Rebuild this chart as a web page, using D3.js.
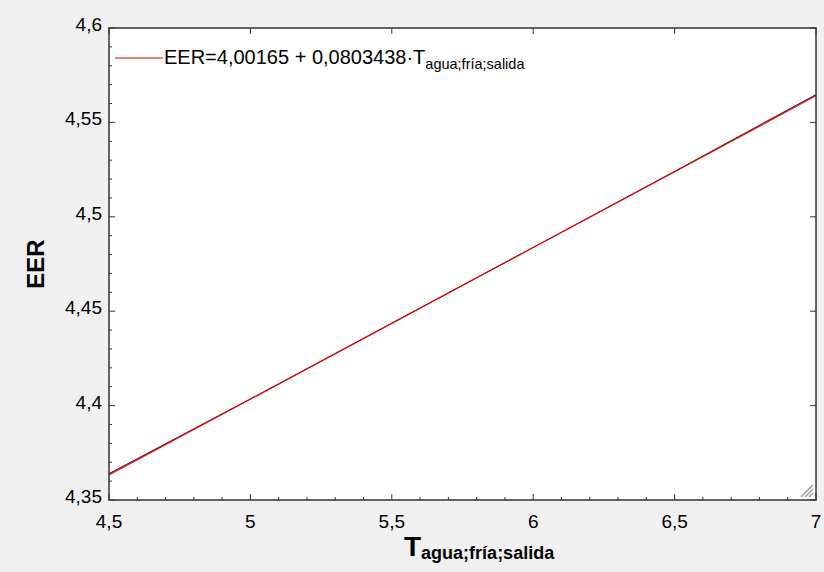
<!DOCTYPE html>
<html>
<head>
<meta charset="utf-8">
<script src="https://cdn.jsdelivr.net/npm/d3@7"></script>
<style>
  body { margin: 0; background: #f0f0f0; }
  text { font-family: Arial, "Liberation Sans", sans-serif; fill: #000; }
</style>
</head>
<body>
<div class="Chart"></div>
<script>
// values
let xTicks = [4.5, 5, 5.5, 6, 6.5, 7];
let yTicks = [4.35, 4.4, 4.45, 4.5, 4.55, 4.6];
let intercept = 4.00165;
let slope = 0.0803438;
// fitted (red) line end points
let fitX = [4.5, 7];
// observed (black) line
let obsX = [4.5, 5, 5.5, 6, 6.5, 7];
let obsY = [4.3639, 4.4035, 4.4436, 4.4838, 4.5240, 4.5647];

let svgWidth = 824;
let svgHeight = 572;

let margin = { top: 28, right: 8, bottom: 72, left: 109 };
let width = svgWidth - margin.left - margin.right;
let height = svgHeight - margin.top - margin.bottom;

let svg = d3.select(".Chart")
  .append("svg")
  .attr("width", svgWidth)
  .attr("height", svgHeight);

svg.append("rect")
  .attr("width", svgWidth).attr("height", svgHeight)
  .attr("fill", "#f0f0f0");

let chart = svg.append("g")
  .attr("transform", `translate(${margin.left}, ${margin.top})`);

let xScale = d3.scaleLinear().domain([4.5, 7]).range([0, width]);
let yScale = d3.scaleLinear().domain([4.35, 4.6]).range([height, 0]);

chart.append("rect")
  .attr("width", width).attr("height", height)
  .attr("fill", "#fff");

let fmt = d => String(d).replace(".", ",");

// minor ticks every 0.1 on x and 0.01 on y
let xMinor = d3.range(45, 71).map(d => d / 10);
let yMinor = d3.range(435, 461).map(d => d / 100);

chart.selectAll(".xminor").data(xMinor).enter().append("line")
  .attr("x1", d => xScale(d)).attr("x2", d => xScale(d))
  .attr("y1", height).attr("y2", d => height - (xTicks.includes(d) ? 6 : 3))
  .attr("stroke", "#333").attr("stroke-width", 1);
chart.selectAll(".xminorTop").data(xMinor).enter().append("line")
  .attr("x1", d => xScale(d)).attr("x2", d => xScale(d))
  .attr("y1", 0).attr("y2", d => xTicks.includes(d) ? 6 : 0)
  .attr("stroke", "#333").attr("stroke-width", 1);

chart.selectAll(".yminor").data(yMinor).enter().append("line")
  .attr("y1", d => yScale(d)).attr("y2", d => yScale(d))
  .attr("x1", 0).attr("x2", (d, i) => i % 5 === 0 ? 6 : 3)
  .attr("stroke", "#333").attr("stroke-width", 1);
chart.selectAll(".yminorRight").data(yMinor).enter().append("line")
  .attr("y1", d => yScale(d)).attr("y2", d => yScale(d))
  .attr("x1", width).attr("x2", (d, i) => width - (i % 5 === 0 ? 6 : 0))
  .attr("stroke", "#333").attr("stroke-width", 1);

// tick labels
chart.selectAll(".xlab").data(xTicks).enter().append("text")
  .attr("x", d => xScale(d)).attr("y", height + 28)
  .attr("text-anchor", "middle")
  .attr("font-size", "19px")
  .text(fmt);

chart.selectAll(".ylab").data(yTicks).enter().append("text")
  .attr("x", -7).attr("y", d => yScale(d) + 3)
  .attr("text-anchor", "end")
  .attr("font-size", "19px")
  .text(fmt);

// lines
let line = d3.line().x(d => xScale(d[0])).y(d => yScale(d[1]));

chart.append("path")
  .datum(obsX.map((x, i) => [x, obsY[i]]))
  .attr("d", line)
  .attr("fill", "none").attr("stroke", "#222").attr("stroke-width", 1.1);

chart.append("path")
  .datum(fitX.map(x => [x, intercept + slope * x]))
  .attr("d", line)
  .attr("fill", "none").attr("stroke", "#ff0000").attr("stroke-width", 1.1);

// frame
chart.append("rect")
  .attr("width", width).attr("height", height)
  .attr("fill", "none").attr("stroke", "#333").attr("stroke-width", 1.5);

// resize grip in bottom-right corner
let grip = chart.append("g").attr("transform", `translate(${width - 3}, ${height - 3})`);
[4, 8, 12].forEach(s => {
  grip.append("line")
    .attr("x1", -s).attr("y1", 0).attr("x2", 0).attr("y2", -s)
    .attr("stroke", "#999").attr("stroke-width", 1.5);
});

// legend
chart.append("line")
  .attr("x1", 6).attr("x2", 54).attr("y1", 30).attr("y2", 30)
  .attr("stroke", "#e00000").attr("stroke-width", 1);
let leg = chart.append("text")
  .attr("x", 55).attr("y", 36)
  .attr("font-size", "20px");
leg.append("tspan").text("EER=4,00165 + 0,0803438\u00b7T");
leg.append("tspan").attr("font-size", "14.5px").attr("dy", 5).text("agua;fría;salida");

// axis titles
let xt = svg.append("text")
  .attr("x", 404).attr("y", 556)
  .attr("font-weight", "bold");
xt.append("tspan").attr("font-size", "28px").text("T");
xt.append("tspan").attr("font-size", "18px").attr("dy", 3).text("agua;fría;salida");

svg.append("text")
  .attr("transform", `translate(44, ${margin.top + height / 2}) rotate(-90)`)
  .attr("text-anchor", "middle")
  .attr("font-size", "24px")
  .attr("font-weight", "bold")
  .text("EER");
</script>
</body>
</html>
